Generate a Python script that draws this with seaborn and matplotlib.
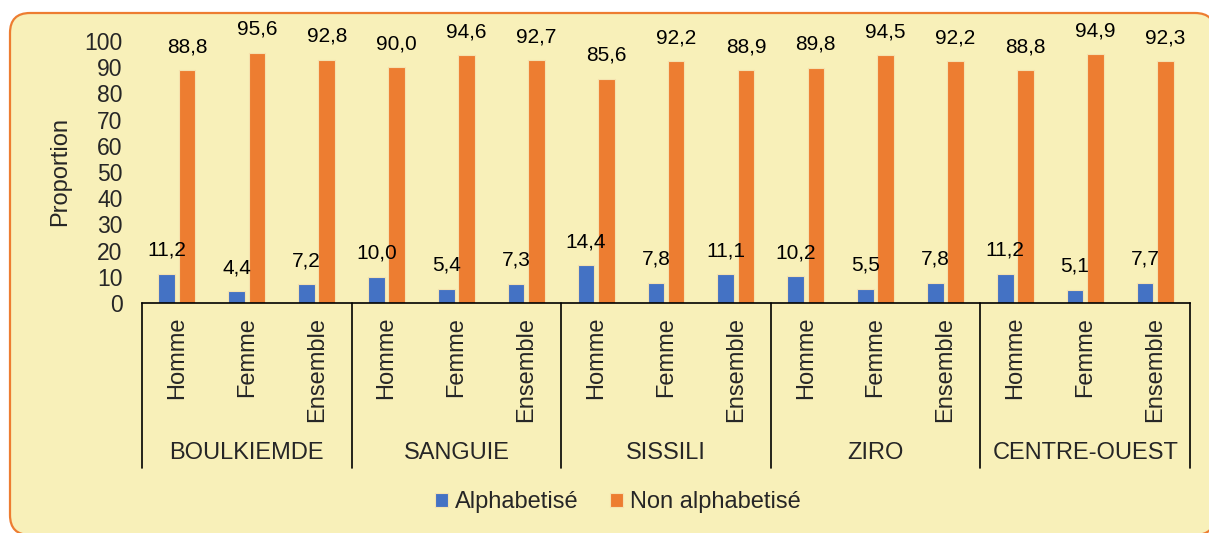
import matplotlib
matplotlib.use("Agg")
import matplotlib.pyplot as plt
import matplotlib.transforms as mtransforms
from matplotlib.patches import FancyBboxPatch
from matplotlib.lines import Line2D
import pandas as pd
import seaborn as sns

# --- data -------------------------------------------------------------
regions = ["BOULKIEMDE", "SANGUIE", "SISSILI", "ZIRO", "CENTRE-OUEST"]
sexes = ["Homme", "Femme", "Ensemble"]
statuts = ["Alphabetisé", "Non alphabetisé"]
alphabetise = [11.2, 4.4, 7.2, 10.0, 5.4, 7.3, 14.4, 7.8, 11.1,
               10.2, 5.5, 7.8, 11.2, 5.1, 7.7]
non_alphabetise = [88.8, 95.6, 92.8, 90.0, 94.6, 92.7, 85.6, 92.2, 88.9,
                   89.8, 94.5, 92.2, 88.8, 94.9, 92.3]
y_ticks = [0, 10, 20, 30, 40, 50, 60, 70, 80, 90, 100]

# --- styling ----------------------------------------------------------
sns.set_style("white")
plt.rcParams["font.family"] = ["Liberation Sans", "DejaVu Sans"]
BLUE = "#4472C4"
ORANGE = "#ED7D31"
PANEL = "#F8F0B9"

W, H = 1209, 533
fig = plt.figure(figsize=(W / 100, H / 100), dpi=100, facecolor="white")

# rounded panel behind the chart (runs past the right and bottom edges)
panel = FancyBboxPatch((10, -2), 1205, 522,
                       boxstyle="round,pad=0,rounding_size=20",
                       facecolor=PANEL, edgecolor=ORANGE, linewidth=1.6,
                       transform=mtransforms.IdentityTransform(), zorder=-5)
fig.patches.append(panel)

ax = fig.add_axes([142 / W, (H - 303) / H, (1190 - 142) / W, (303 - 41) / H])
ax.set_facecolor("none")
ax.set_zorder(2)

keys = [f"{r}|{s}" for r in regions for s in sexes]
df = pd.DataFrame({
    "cle": keys * 2,
    "valeur": alphabetise + non_alphabetise,
    "statut": [statuts[0]] * len(keys) + [statuts[1]] * len(keys),
})

sns.barplot(data=df, x="cle", y="valeur", hue="statut", order=keys,
            hue_order=statuts, palette=[BLUE, ORANGE], saturation=1,
            width=0.58, gap=0.18, edgecolor="#F5E2B0", linewidth=0.8,
            ax=ax, legend=True)

handles, labels = ax.get_legend_handles_labels()
ax.get_legend().remove()

# value labels with comma decimals
for cont, vals in zip(ax.containers, [alphabetise, non_alphabetise]):
    ax.bar_label(cont, labels=[f"{v:.1f}".replace(".", ",") for v in vals],
                 padding=10, fontsize=15, color="black")

ax.set_xlim(-0.5, len(keys) - 0.5)
ax.set_ylim(0, 100)
ax.set_yticks(y_ticks)
ax.set_yticklabels([str(t) for t in y_ticks], fontsize=16.5)
ax.set_xticks(range(len(keys)))
ax.set_xticklabels(sexes * len(regions), rotation=90, fontsize=17,
                   va="top", ha="center")
ax.tick_params(axis="y", length=0, pad=14)
ax.tick_params(axis="x", length=0, pad=10)
ax.set_xlabel("")
ax.set_ylabel("")
for side in ["left", "right", "top"]:
    ax.spines[side].set_visible(False)
ax.spines["bottom"].set_color("black")
ax.spines["bottom"].set_linewidth(1.2)

# region separators and region names below the category labels
trans = mtransforms.blended_transform_factory(ax.transData, ax.transAxes)
sep_bottom = -(468 - 303) / (303 - 41)
for i in range(len(regions) + 1):
    xpos = i * 3 - 0.5
    ax.add_line(Line2D([xpos, xpos], [0, sep_bottom], transform=trans,
                       color="black", linewidth=1.2, clip_on=False))
for i, r in enumerate(regions):
    ax.text(i * 3 + 1, -(453 - 303) / (303 - 41), r, transform=trans,
            ha="center", va="center", fontsize=17)

fig.text(60 / W, (H - 172) / H, "Proportion", rotation=90,
         ha="center", va="center", fontsize=17)

fig.legend(handles, labels, loc="center", ncol=2, frameon=False,
           bbox_to_anchor=(618 / W, (H - 502) / H), fontsize=17,
           handlelength=0.55, handleheight=0.55, handletextpad=0.3,
           columnspacing=1.35)

fig.savefig("out.png", dpi=100, facecolor="white")
